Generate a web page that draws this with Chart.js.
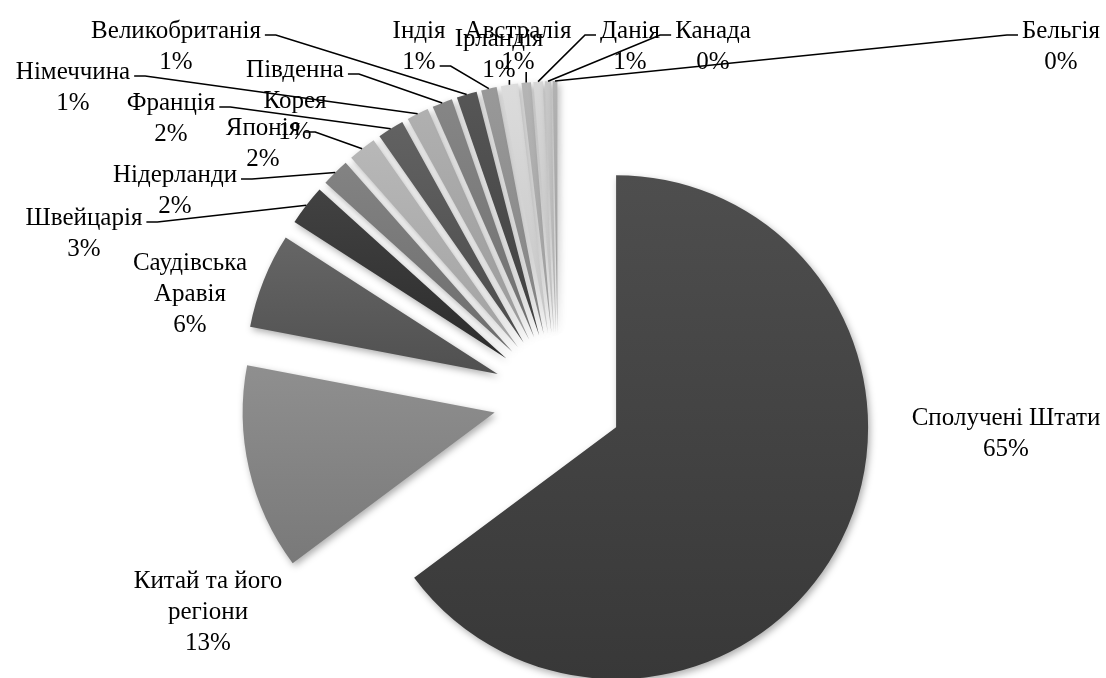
<!DOCTYPE html>
<html>
<head>
<meta charset="utf-8">
<title>Частка країн</title>
<script src="https://cdn.jsdelivr.net/npm/chart.js@4.4.1/dist/chart.umd.min.js"></script>
<style>
  html, body { margin: 0; padding: 0; background: #fff; }
  #wrap { width: 1106px; height: 678px; }
</style>
</head>
<body>
<div id="wrap"><canvas id="pie" width="1106" height="678"></canvas></div>
<script>
// values (share of total, %), clockwise from 12 o'clock
const countries = ["Сполучені Штати", "Китай та його регіони", "Саудівська Аравія", "Швейцарія",
  "Нідерланди", "Японія", "Франція", "Німеччина", "Південна Корея", "Великобританія",
  "Індія", "Ірландія", "Австралія", "Данія", "Канада", "Бельгія"];
const shares = [64.8, 13.2, 6.1, 2.6, 1.8, 1.8, 1.7, 1.4, 1.3, 1.3, 1.0, 1.1, 0.6, 0.6, 0.4, 0.3];

// styles
const sliceColors = ["#424242", "#838383", "#5a5a5a", "#363636", "#777777", "#acacac", "#565656", "#a4a4a4",
  "#7a7a7a", "#4a4a4a", "#8d8d8d", "#d0d0d0", "#a9a9a9", "#cbcbcb", "#bdbdbd", "#a6a6a6"];
const FONT = '25px "Liberation Serif", "Times New Roman", serif';
const LINE_H = 31;
const EXPLODE = 65;   // every slice pulled out by this much
const RADIUS = 252;

// label layout: centre x and first baseline, how the name wraps, where the leader line leaves
const labelPos = [[1006, 425], [208, 588], [190, 270], [84, 225], [175, 182], [263, 135], [171, 110],
  [73, 79], [295, 77], [176, 38], [419, 38], [499, 46], [518, 38], [630, 38], [713, 38], [1061, 38]];
const wrapName = [false, true, true, false, false, false, false, false, true, false, false, false, false, false, false, false];
const leaderSide = [null, null, null, "right", "right", "right", "right", "right", "right", "right",
  "right", "below", "below", "left", "left", "left"];
const leaderLine = [0, 0, 0, 0, 0, 0, 0, 0, 0, 0, 1, 0, 0, 0, 0, 0];

function shade(hex, d) {
  const n = parseInt(hex.slice(1), 16);
  const ch = s => Math.max(0, Math.min(255, ((n >> s) & 255) + d));
  return `rgb(${ch(16)},${ch(8)},${ch(0)})`;
}

// top-to-bottom shading per slice, like the office "shade" fill
function sliceFill(c) {
  const chart = c.chart, i = c.dataIndex, area = chart.chartArea;
  const base = sliceColors[i];
  if (!area) return base;
  const data = c.dataset.data;
  const total = data.reduce((a, b) => a + b, 0);
  let start = -Math.PI / 2;
  for (let k = 0; k < i; k++) start += data[k] / total * 2 * Math.PI;
  const end = start + data[i] / total * 2 * Math.PI;
  const mid = (start + end) / 2;
  const ay = (area.top + area.bottom) / 2 + Math.sin(mid) * EXPLODE;
  const ys = [ay, ay + Math.sin(start) * RADIUS, ay + Math.sin(end) * RADIUS];
  if (start < Math.PI / 2 && end > Math.PI / 2) ys.push(ay + RADIUS);
  const g = chart.ctx.createLinearGradient(0, Math.min(...ys), 0, Math.max(...ys));
  g.addColorStop(0, shade(base, 12));
  g.addColorStop(1, shade(base, -10));
  return g;
}

const explodePlugin = {
  id: "explode",
  afterDatasetsUpdate(chart) {
    chart.getDatasetMeta(0).data.forEach(arc => {
      const mid = (arc.startAngle + arc.endAngle) / 2;
      arc.x += Math.cos(mid) * EXPLODE;
      arc.y += Math.sin(mid) * EXPLODE;
    });
  },
  beforeDatasetsDraw(chart) {
    const ctx = chart.ctx;
    ctx.save();
    ctx.shadowColor = "rgba(0,0,0,0.32)";
    ctx.shadowBlur = 7;
    ctx.shadowOffsetX = 2;
    ctx.shadowOffsetY = 3;
  },
  afterDatasetsDraw(chart) {
    chart.ctx.restore();
  }
};

const calloutPlugin = {
  id: "callouts",
  afterDraw(chart) {
    const ctx = chart.ctx;
    const arcs = chart.getDatasetMeta(0).data;
    const data = chart.data.datasets[0].data;
    const total = data.reduce((a, b) => a + b, 0);
    ctx.save();
    ctx.font = FONT;
    ctx.fillStyle = "#000";
    ctx.strokeStyle = "#000";
    ctx.lineWidth = 1.6;
    ctx.textAlign = "center";
    ctx.textBaseline = "alphabetic";
    chart.data.labels.forEach((name, i) => {
      const [x, y] = labelPos[i];
      let lines = [name];
      if (wrapName[i]) {
        const cut = name.lastIndexOf(" ");
        lines = [name.slice(0, cut), name.slice(cut + 1)];
      }
      lines.push(Math.round(data[i] / total * 100) + "%");
      lines.forEach((t, k) => ctx.fillText(t, x, y + k * LINE_H));

      const side = leaderSide[i];
      if (!side) return;
      const arc = arcs[i];
      const mid = (arc.startAngle + arc.endAngle) / 2;
      const ex = arc.x + Math.cos(mid) * arc.outerRadius;
      const ey = arc.y + Math.sin(mid) * arc.outerRadius;
      ctx.beginPath();
      if (side === "below") {
        ctx.moveTo(ex, y + (lines.length - 1) * LINE_H + 3);
        ctx.lineTo(ex, ey);
      } else {
        const k = leaderLine[i];
        const dir = side === "right" ? 1 : -1;
        const sx = x + dir * (ctx.measureText(lines[k]).width / 2 + 4);
        const sy = y + k * LINE_H - 3;
        ctx.moveTo(sx, sy);
        ctx.lineTo(sx + dir * 11, sy);
        ctx.lineTo(ex, ey);
      }
      ctx.stroke();
    });
    ctx.restore();
  }
};

new Chart(document.getElementById("pie"), {
  type: "pie",
  data: {
    labels: countries,
    datasets: [{
      data: shares,
      backgroundColor: sliceFill,
      borderWidth: 0,
      radius: RADIUS,
      clip: false
    }]
  },
  options: {
    responsive: false,
    animation: false,
    events: [],
    layout: { padding: { left: 10, top: 118, right: 0, bottom: 0 } },
    plugins: {
      legend: { display: false },
      tooltip: { enabled: false }
    }
  },
  plugins: [explodePlugin, calloutPlugin]
});
</script>
</body>
</html>
